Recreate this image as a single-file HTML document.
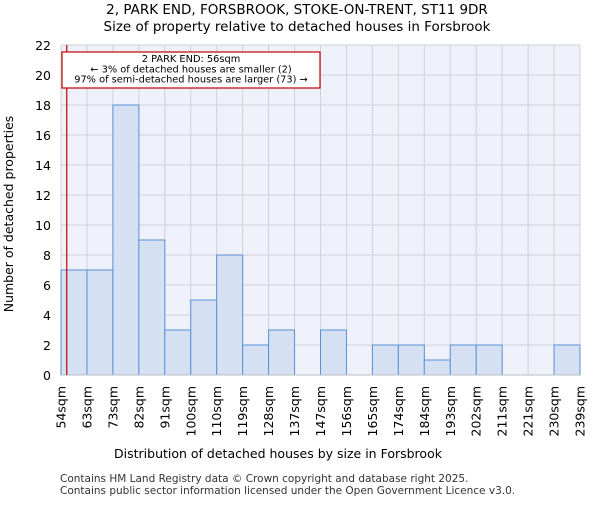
<!DOCTYPE html>
<html><head><meta charset="utf-8"><style>
body{margin:0;background:#fff;font-family:"Liberation Sans","DejaVu Sans",sans-serif;}
svg text{font-family:"DejaVu Sans","Liberation Sans",sans-serif;}
</style></head><body>
<svg id="c" width="600" height="500" viewBox="0 0 600 500">
<text x="297" y="14" text-anchor="middle" font-size="13.5">2, PARK END, FORSBROOK, STOKE-ON-TRENT, ST11 9DR</text>
<text x="297" y="31" text-anchor="middle" font-size="13.5">Size of property relative to detached houses in Forsbrook</text>
<rect x="61" y="45" width="519" height="330" fill="#eef1fa"/>
<g id="grid"></g><g id="bars"></g><g id="axes"></g>
<text x="278" y="458" text-anchor="middle" font-size="12.5">Distribution of detached houses by size in Forsbrook</text>
<text transform="translate(13,214) rotate(-90)" text-anchor="middle" font-size="12.5">Number of detached properties</text>
<text x="60" y="482" font-size="10.5" fill="#333">Contains HM Land Registry data © Crown copyright and database right 2025.</text>
<text x="60" y="494" font-size="10.5" fill="#333">Contains public sector information licensed under the Open Government Licence v3.0.</text>
</svg>
<script>
const labels=["54sqm","63sqm","73sqm","82sqm","91sqm","100sqm","110sqm","119sqm","128sqm","137sqm","147sqm","156sqm","165sqm","174sqm","184sqm","193sqm","202sqm","211sqm","221sqm","230sqm","239sqm"];
const counts=[7,7,18,9,3,5,8,2,3,0,3,0,2,2,1,2,2,0,0,2];
const yTicks=[0,2,4,6,8,10,12,14,16,18,20,22];
const propertySize=56;
const binEdges=[54,63,73,82,91,100,110,119,128,137,147,156,165,174,184,193,202,211,221,230,239];
const NS="http://www.w3.org/2000/svg";
const L=61,R=580,T=45,B=375,yMax=22;
const bw=(R-L)/counts.length;
const xp=i=>L+i*bw;
const yp=v=>B-v/yMax*(B-T);
function mk(p,tag,a){const e=document.createElementNS(NS,tag);for(const k in a)e.setAttribute(k,a[k]);p.appendChild(e);return e;}
const g=document.getElementById('grid'),b=document.getElementById('bars'),ax=document.getElementById('axes');
yTicks.forEach(v=>{
 const l=mk(g,'line',{x1:L,x2:R,y1:yp(v),y2:yp(v),stroke:'#cfd1d8','stroke-width':1});
 
 
 const t=mk(ax,'text',{x:L-10,y:yp(v)+5,'text-anchor':'end','font-size':12.5});
 t.textContent=v;
 
 
});
labels.forEach((s,i)=>{
 const l=mk(g,'line',{x1:xp(i),x2:xp(i),y1:T,y2:B,stroke:'#cfd1d8','stroke-width':1});
 
 
 const t=mk(ax,'text',{transform:`translate(${xp(i)+4.5},386) rotate(-90)`,'text-anchor':'end','font-size':12.5});
 t.textContent=s;
 
 
});
counts.forEach((v,i)=>{
 if(v<=0)return;
 const r=mk(b,'rect',{x:xp(i),y:yp(v),width:bw,height:B-yp(v),fill:'#d6e0f3',stroke:'#5b8fd6','stroke-width':1});
 
 
});
const bl=mk(ax,'line',{x1:L,x2:R,y1:B,y2:B,stroke:'#b8bcc6','stroke-width':1});


let bi=0;while(bi<binEdges.length-2&&propertySize>=binEdges[bi+1])bi++;
const mx=xp(bi)+(propertySize-binEdges[bi])/(binEdges[bi+1]-binEdges[bi])*bw;
const ml=mk(ax,'line',{x1:mx,x2:mx,y1:T,y2:B,stroke:'#c00000','stroke-width':1.2});


const box=mk(ax,'rect',{x:62,y:52,width:258,height:36,fill:'#fff',stroke:'#c00000','stroke-width':1.2});


["2 PARK END: 56sqm","← 3% of detached houses are smaller (2)","97% of semi-detached houses are larger (73) →"].forEach((s,i)=>{
 const t=mk(ax,'text',{x:191,y:62+i*10.3,'text-anchor':'middle','font-size':9.8});
 t.textContent=s;
 
 
});
</script>
</body></html>
